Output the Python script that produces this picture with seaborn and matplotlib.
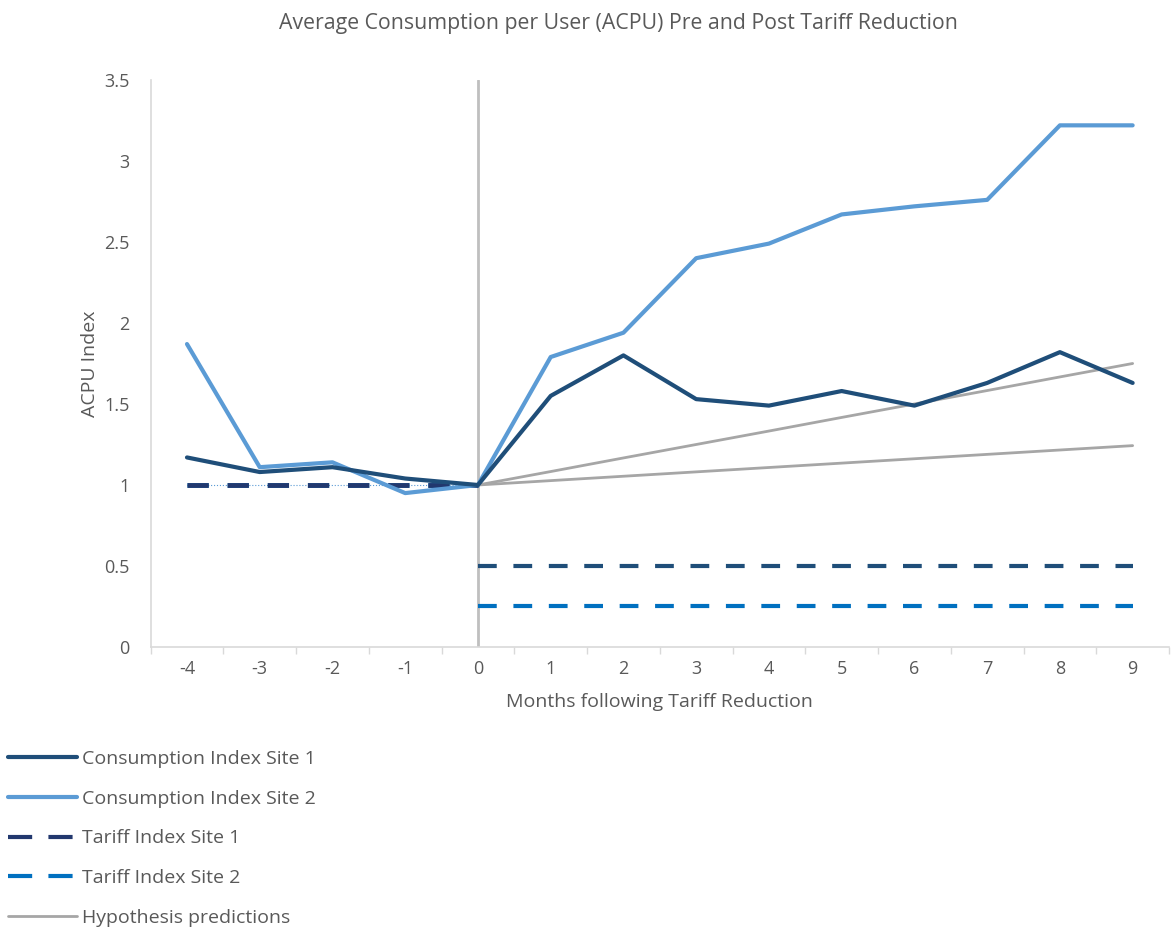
import matplotlib
matplotlib.use('Agg')
import matplotlib.pyplot as plt
from matplotlib.ticker import FuncFormatter, MultipleLocator
import pandas as pd
import seaborn as sns

# --- data ---
months = [-4, -3, -2, -1, 0, 1, 2, 3, 4, 5, 6, 7, 8, 9]
consumption_site1 = [1.17, 1.08, 1.11, 1.04, 1.00, 1.55, 1.80, 1.53, 1.49, 1.58, 1.49, 1.63, 1.82, 1.63]
consumption_site2 = [1.87, 1.11, 1.14, 0.95, 1.00, 1.79, 1.94, 2.40, 2.49, 2.67, 2.72, 2.76, 3.22, 3.22]

months_pre = [-4, -3, -2, -1, 0]
months_post = [0, 1, 2, 3, 4, 5, 6, 7, 8, 9]
tariff_site1_pre = [1.0, 1.0, 1.0, 1.0, 1.0]
tariff_site2_pre = [1.0, 1.0, 1.0, 1.0, 1.0]
tariff_site1_post = [0.5, 0.5, 0.5, 0.5, 0.5, 0.5, 0.5, 0.5, 0.5, 0.5]
tariff_site2_post = [0.25, 0.25, 0.25, 0.25, 0.25, 0.25, 0.25, 0.25, 0.25, 0.25]
hypothesis_high = [1.0, 1.083, 1.167, 1.25, 1.333, 1.417, 1.5, 1.583, 1.667, 1.75]
hypothesis_low = [1.0, 1.027, 1.054, 1.081, 1.108, 1.135, 1.162, 1.189, 1.216, 1.243]

C_SITE1 = '#1F4E79'
C_SITE2 = '#5B9BD5'
C_TAR1 = '#22386E'
C_TAR2 = '#0070C0'
C_HYP = '#A6A6A6'
TXT = '#595959'

sns.set_style("white")
plt.rcParams['font.family'] = ['Open Sans', 'DejaVu Sans']
plt.rcParams['axes.unicode_minus'] = False

fig = plt.figure(figsize=(11.73, 9.3), dpi=100)
ax = fig.add_axes([0.1284, 0.3043, 0.8682, 0.6097])

cons = pd.DataFrame({'month': months, 'site1': consumption_site1, 'site2': consumption_site2})
pre = pd.DataFrame({'month': months_pre, 't1': tariff_site1_pre, 't2': tariff_site2_pre})
post = pd.DataFrame({'month': months_post, 't1': tariff_site1_post, 't2': tariff_site2_post,
                     'hh': hypothesis_high, 'hl': hypothesis_low})

# vertical marker at the tariff reduction
ax.axvline(0, color='#BFBFBF', lw=2, zorder=1)

dash = (4.5, 4)
# tariff lines
sns.lineplot(data=pre, x='month', y='t2', ax=ax, color=C_SITE2, lw=0.8, linestyle=':', zorder=2)
sns.lineplot(data=pre, x='month', y='t2', ax=ax, color=C_TAR2, lw=3.4, zorder=2).lines[-1].set_dashes(dash)
sns.lineplot(data=pre, x='month', y='t1', ax=ax, color=C_TAR1, lw=3.4, zorder=3).lines[-1].set_dashes(dash)
sns.lineplot(data=post, x='month', y='t1', ax=ax, color='#1F4E79', lw=3, zorder=3).lines[-1].set_dashes(dash)
sns.lineplot(data=post, x='month', y='t2', ax=ax, color=C_TAR2, lw=3, zorder=3).lines[-1].set_dashes(dash)

# hypothesis predictions
sns.lineplot(data=post, x='month', y='hh', ax=ax, color=C_HYP, lw=2, zorder=3)
sns.lineplot(data=post, x='month', y='hl', ax=ax, color=C_HYP, lw=2, zorder=3)

# consumption indices
sns.lineplot(data=cons, x='month', y='site2', ax=ax, color=C_SITE2, lw=3, zorder=4)
sns.lineplot(data=cons, x='month', y='site1', ax=ax, color=C_SITE1, lw=3, zorder=5)

ax.set_xlim(-4.5, 9.5)
ax.set_ylim(0, 3.5)
ax.xaxis.set_major_locator(MultipleLocator(1))
ax.xaxis.set_minor_locator(MultipleLocator(1, offset=0.5))
ax.yaxis.set_major_locator(MultipleLocator(0.5))
ax.yaxis.set_major_formatter(FuncFormatter(lambda v, p: f'{v:g}'))
ax.tick_params(axis='x', which='major', length=0, pad=9, labelsize=13, labelcolor=TXT)
ax.tick_params(axis='x', which='minor', length=5, width=1, color='#D9D9D9', direction='out')
ax.tick_params(axis='y', which='major', length=5, width=1, color='#D9D9D9', direction='out',
               pad=10, labelsize=13, labelcolor=TXT)
ax.tick_params(axis='x', which='minor', bottom=True)

for side in ['top', 'right']:
    ax.spines[side].set_visible(False)
for side in ['left', 'bottom']:
    ax.spines[side].set_color('#D9D9D9')
    ax.spines[side].set_linewidth(1.2)

ax.set_xlabel('Months following Tariff Reduction', fontsize=14, color=TXT, labelpad=11)
ax.set_ylabel('ACPU Index', fontsize=14, color=TXT, labelpad=4)
fig.suptitle('Average Consumption per User (ACPU) Pre and Post Tariff Reduction',
             x=0.527, y=0.986, fontsize=15.3, color=TXT)

ldash = (5.8, 3.9)
handles = [
    plt.Line2D([], [], color=C_SITE1, lw=3),
    plt.Line2D([], [], color=C_SITE2, lw=3),
    plt.Line2D([], [], color=C_TAR1, lw=3, dashes=ldash),
    plt.Line2D([], [], color=C_TAR2, lw=3, dashes=ldash),
    plt.Line2D([], [], color=C_HYP, lw=2),
]
labels = ['Consumption Index Site 1', 'Consumption Index Site 2', 'Tariff Index Site 1',
          'Tariff Index Site 2', 'Hypothesis predictions']
leg = fig.legend(handles, labels, loc='upper left', bbox_to_anchor=(0.0, 0.202),
                 frameon=False, fontsize=14, handlelength=3.55, handletextpad=0.25,
                 labelspacing=1.12, borderaxespad=0.0, borderpad=0.4)
for t in leg.get_texts():
    t.set_color(TXT)

fig.savefig('out.png', dpi=100, facecolor='white')
